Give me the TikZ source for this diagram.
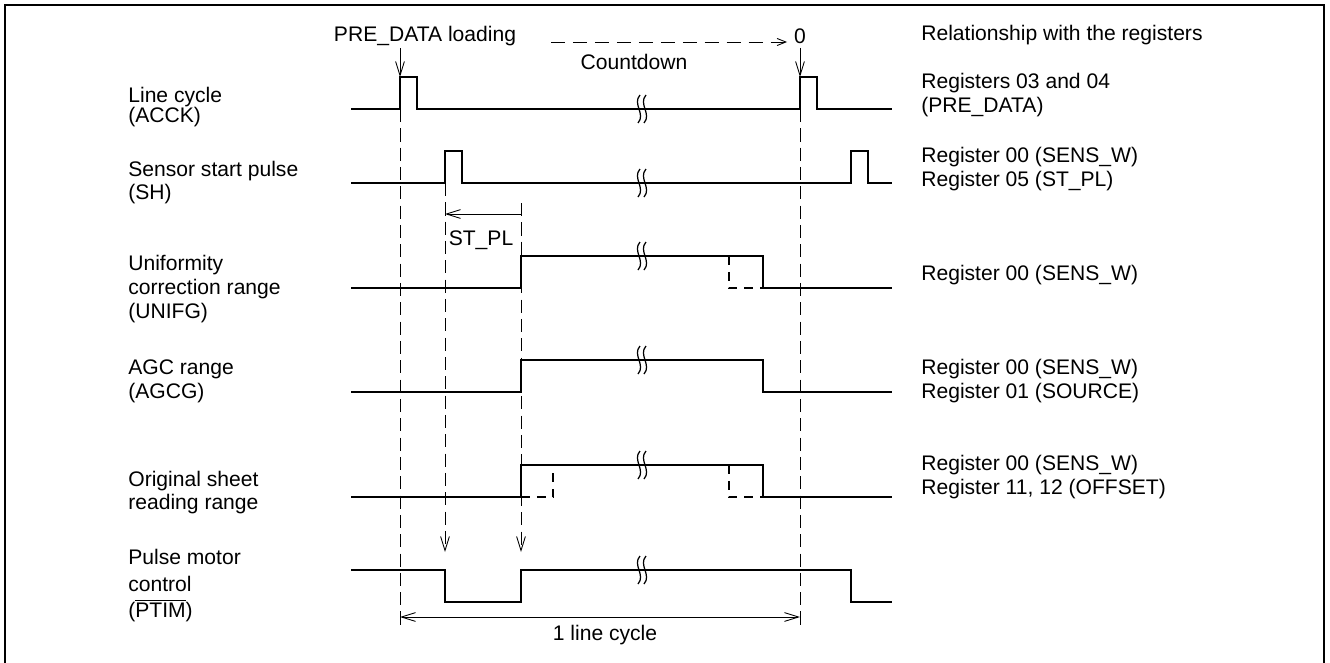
\documentclass[tikz,border=0pt]{standalone}
\usepackage{fontspec}
\setmainfont{Liberation Sans}
\usetikzlibrary{arrows.meta}

\newcommand{\sigbreak}[2]{%
  \foreach \dx in {-3,3}
    \draw[line width=0.7pt] ({#1+\dx+1},{#2-14}) .. controls ({#1+\dx-7},{#2-5}) and ({#1+\dx+7},{#2+5}) .. ({#1+\dx-1},{#2+14});}
\newcommand{\barred}[1]{\leavevmode\vbox{\hrule height 0.6pt\kern1.2pt\hbox{#1}}}

\begin{document}
\begin{tikzpicture}[x=0.02cm, y=-0.02cm, >={Straight Barb[length=8pt,width=5pt]},
  sig/.style={line width=1.1pt},
  alt/.style={line width=1.1pt, dash pattern=on 5pt off 4pt},
  guide/.style={line width=0.5pt, dash pattern=on 7.5pt off 3.5pt},
  lbl/.style={anchor=west, align=left, inner sep=0pt, font=\fontsize{12pt}{#1}\selectfont},
  lbl/.default=13.5pt,
  txt/.style={inner sep=0pt, font=\fontsize{12pt}{13.5pt}\selectfont}]
\useasboundingbox (0,0) rectangle (1330,663);
% Draw the frame
\draw[line width=1.3pt] (5,663) -- (5,5) -- (1324,5) -- (1324,663);

% signal names
\node[lbl=11.4pt] (acck) at (128,107) {Line cycle\\(ACCK)};
\node[lbl=13.1pt] (sh) at (128,183) {Sensor start pulse\\(SH)};
\node[lbl=13.4pt] (unifg) at (128,289) {Uniformity\\correction range\\(UNIFG)};
\node[lbl=13.7pt] (agcg) at (128,381) {AGC range\\(AGCG)};
\node[lbl=13.1pt] (orig) at (128,493) {Original sheet\\reading range};
\node[lbl=15.1pt] (ptim) at (128,586) {Pulse motor\\control\\(\barred{PTIM})};

% registers
\node[lbl] (regs) at (921,35) {Relationship with the registers};
\node[lbl=13.7pt] (reg1) at (921,95) {Registers 03 and 04\\(PRE\_DATA)};
\node[lbl=13.7pt] (reg2) at (921,169) {Register 00 (SENS\_W)\\Register 05 (ST\_PL)};
\node[lbl] (reg3) at (921,275) {Register 00 (SENS\_W)};
\node[lbl=13.7pt] (reg4) at (921,381) {Register 00 (SENS\_W)\\Register 01 (SOURCE)};
\node[lbl=13.7pt] (reg5) at (921,477) {Register 00 (SENS\_W)\\Register 11, 12 (OFFSET)};

% waveforms
\draw[sig] (351,109) -- (400,109) -- (400,77) -- (417,77) -- (417,109) -- (800,109) -- (800,77) -- (817,77) -- (817,109) -- (892,109);
\draw[sig] (351,183) -- (445,183) -- (445,151) -- (462,151) -- (462,183) -- (851,183) -- (851,151) -- (868,151) -- (868,183) -- (892,183);
\draw[sig] (351,288) -- (521,288) -- (521,256) -- (763,256) -- (763,288) -- (892,288);
\draw[alt] (729,256) -- (729,288) -- (763,288);
\draw[sig] (351,392) -- (521,392) -- (521,360) -- (763,360) -- (763,392) -- (892,392);
\draw[sig] (351,497) -- (521,497) -- (521,465) -- (763,465) -- (763,497) -- (892,497);
\draw[alt] (521,497) -- (553,497) -- (553,465);
\draw[alt] (729,465) -- (729,497) -- (763,497);
\draw[sig] (351,570) -- (445,570) -- (445,602) -- (521,602) -- (521,570) -- (851,570) -- (851,602) -- (892,602);
\foreach \y in {109,183,256,360,465,570} {\sigbreak{642}{\y}}

% timing guides
\coordinate (ta) at (400,109);
\coordinate (tb) at (445,183);
\coordinate (tc) at (521,203);
\coordinate (td) at (800,109);
\draw[guide] (ta) -- (400,625);
\draw[guide] (td) -- (800,625);
\draw[guide,->] (tb) -- (445,552);
\draw[guide,->] (tc) -- (521,552);

% texts and arrows on top
\node[txt] (predata) at (425,36) {PRE\_DATA loading};
\node[txt] (zero) at (800,36) {0};
\node[txt] (count) at (634,62) {Countdown};
\node[txt] (stpl) at (481,240) {ST\_PL};
\node[txt] (cycle) at (605,635) {1 line cycle};
\draw[line width=0.5pt,->] (predata.south -| ta) ++(0,2) -- (400,77);
\draw[line width=0.5pt,->] (zero.south) ++(0,4) -- (800,77);
\draw[line width=0.5pt, dash pattern=on 8pt off 4.5pt, -{Straight Barb[length=5pt,width=4pt]}] (551,42) -- (787,42);
\draw[line width=0.5pt,->] (tc |- 0,214) -- (tb |- 0,214);
\draw[line width=0.5pt,<->] (ta |- 0,617) -- (td |- 0,617);
\end{tikzpicture}
\end{document}
